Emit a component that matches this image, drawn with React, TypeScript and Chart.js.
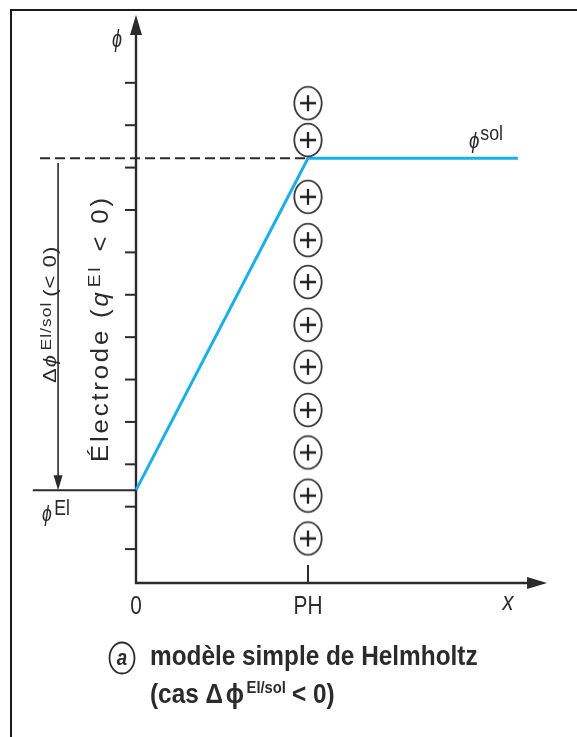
import React, { useEffect, useRef } from "react";
import { Chart, registerables } from "chart.js";
Chart.register(...registerables);

// ---- scale ranges (data units) ----
const X_MIN = -0.75;
const X_MAX = 2.5;
const Y_MIN = 0.2;
const Y_MAX = 13.6;
const X_ARROW_END = 2.39;

// ---- ticks / labels ----
const xTickValues = [1];
const xLabelValues = [0, 1];
const xTickLabels = ["0", "PH"];
const yTickValues = [1, 2, 3, 4, 5, 6, 7, 8, 9, 10, 11, 12];

// ---- potentials ----
const PHI_EL = 2.39;
const PHI_SOL = 10.22;
const potentialX = [0, 1, 2.22];
const potentialY = [PHI_EL, PHI_SOL, PHI_SOL];
const phiElLineX = [-0.6, 0];
const dashedLineX = [-0.558, 1];
const deltaArrowX = -0.453;
const deltaArrowTop = 10.11;

// ---- charges at the Helmholtz plane ----
const chargeX = 1;
const chargeY = [1.25, 2.26, 3.28, 4.28, 5.3, 6.29, 7.3, 8.29, 9.31, 10.65, 11.52];

const FF = "'Liberation Sans', Arial, sans-serif";
const INK = "#2b2b2b";
const BLUE = "#1aaeea";

type Seg = { t: string; font: string; dy?: number; gap?: number };

function drawRich(
  ctx: CanvasRenderingContext2D,
  segs: Seg[],
  x: number,
  y: number,
  opts: { rot?: number; sx?: number; ls?: number; align?: "left" | "center" } = {}
) {
  ctx.save();
  ctx.translate(x, y);
  if (opts.rot) ctx.rotate(opts.rot);
  ctx.scale(opts.sx ?? 1, 1);
  ctx.textBaseline = "alphabetic";
  ctx.textAlign = "left";
  (ctx as any).letterSpacing = `${opts.ls ?? 0}px`;
  ctx.fillStyle = INK;
  let total = 0;
  for (const s of segs) {
    ctx.font = s.font;
    total += ctx.measureText(s.t).width + (s.gap ?? 0);
  }
  let cx = opts.align === "center" ? -total / 2 : 0;
  for (const s of segs) {
    ctx.font = s.font;
    ctx.fillText(s.t, cx, s.dy ?? 0);
    cx += ctx.measureText(s.t).width + (s.gap ?? 0);
  }
  ctx.restore();
}

function makeChargeIcon(): HTMLCanvasElement {
  const c = document.createElement("canvas");
  c.width = 34;
  c.height = 38;
  const g = c.getContext("2d")!;
  g.strokeStyle = "#3a3a3a";
  g.lineWidth = 1.8;
  g.beginPath();
  g.ellipse(17, 19, 13.7, 16.4, 0, 0, Math.PI * 2);
  g.stroke();
  g.strokeStyle = "#222";
  g.lineWidth = 2.3;
  g.beginPath();
  g.moveTo(17 - 8, 19);
  g.lineTo(17 + 8, 19);
  g.moveTo(17, 19 - 8);
  g.lineTo(17, 19 + 8);
  g.stroke();
  return c;
}

const diagramPlugin = {
  id: "helmholtzDiagram",
  beforeDatasetsDraw(chart: any) {
    const ctx: CanvasRenderingContext2D = chart.ctx;
    const xs = chart.scales.x;
    const ys = chart.scales.y;
    const x0 = xs.getPixelForValue(0);
    const y0 = ys.getPixelForValue(Y_MIN);
    const yTop = ys.getPixelForValue(Y_MAX);
    const xEnd = xs.getPixelForValue(X_ARROW_END);
    ctx.save();
    // frame
    ctx.fillStyle = "#1a1a1a";
    ctx.fillRect(10, 9, 567, 2);
    ctx.fillRect(10, 9, 2, 728);

    ctx.strokeStyle = INK;
    ctx.fillStyle = INK;
    ctx.lineWidth = 2.4;
    // y axis
    ctx.beginPath();
    ctx.moveTo(x0, y0 + 1);
    ctx.lineTo(x0, yTop + 16);
    ctx.stroke();
    ctx.beginPath();
    ctx.moveTo(x0, yTop);
    ctx.lineTo(x0 - 6, yTop + 20);
    ctx.lineTo(x0 + 6, yTop + 20);
    ctx.closePath();
    ctx.fill();
    // x axis
    ctx.beginPath();
    ctx.moveTo(x0 - 1, y0);
    ctx.lineTo(xEnd - 16, y0);
    ctx.stroke();
    ctx.beginPath();
    ctx.moveTo(xEnd, y0);
    ctx.lineTo(xEnd - 20, y0 - 6);
    ctx.lineTo(xEnd - 20, y0 + 6);
    ctx.closePath();
    ctx.fill();
    // y ticks
    ctx.lineWidth = 2;
    for (const v of yTickValues) {
      const py = ys.getPixelForValue(v);
      ctx.beginPath();
      ctx.moveTo(x0 - 11, py);
      ctx.lineTo(x0, py);
      ctx.stroke();
    }
    // x ticks
    for (const v of xTickValues) {
      const px = xs.getPixelForValue(v);
      ctx.beginPath();
      ctx.moveTo(px, y0);
      ctx.lineTo(px, y0 - 18);
      ctx.stroke();
    }
    // delta phi arrow
    const ax = xs.getPixelForValue(deltaArrowX);
    const aTop = ys.getPixelForValue(deltaArrowTop);
    const aBot = ys.getPixelForValue(PHI_EL);
    ctx.lineWidth = 1.6;
    ctx.beginPath();
    ctx.moveTo(ax, aTop);
    ctx.lineTo(ax, aBot - 12);
    ctx.stroke();
    ctx.beginPath();
    ctx.moveTo(ax, aBot);
    ctx.lineTo(ax - 4.5, aBot - 15);
    ctx.lineTo(ax + 4.5, aBot - 15);
    ctx.closePath();
    ctx.fill();
    ctx.restore();
  },
  afterDatasetsDraw(chart: any) {
    const ctx: CanvasRenderingContext2D = chart.ctx;
    const xs = chart.scales.x;
    const ys = chart.scales.y;
    const y0 = ys.getPixelForValue(Y_MIN);
    const x0 = xs.getPixelForValue(0);
    // axis labels
    xLabelValues.forEach((v, i) => {
      drawRich(ctx, [{ t: xTickLabels[i], font: `26px ${FF}` }], xs.getPixelForValue(v), y0 + 31, {
        sx: 0.8,
        align: "center",
      });
    });
    drawRich(ctx, [{ t: "x", font: `italic 26px ${FF}` }], xs.getPixelForValue(X_ARROW_END) - 39, y0 + 27, {
      sx: 0.85,
      align: "center",
    });
    // phi label on y axis
    drawRich(ctx, [{ t: "ϕ", font: `italic 24px ${FF}` }], x0 - 19, 47, { sx: 0.75, align: "center" });
    // phi sol
    const pSol = ys.getPixelForValue(PHI_SOL);
    drawRich(
      ctx,
      [
        { t: "ϕ", font: `italic 22px ${FF}`, dy: 4, gap: 1 },
        { t: "sol", font: `21px ${FF}`, dy: -4 },
      ],
      469,
      pSol - 14,
      { sx: 0.85 }
    );
    // phi El
    const pEl = ys.getPixelForValue(PHI_EL);
    drawRich(
      ctx,
      [
        { t: "ϕ", font: `italic 22px ${FF}`, dy: 6, gap: 3 },
        { t: "El", font: `22px ${FF}` },
      ],
      42,
      pEl + 25,
      { sx: 0.8 }
    );
    // rotated labels
    drawRich(
      ctx,
      [
        { t: "Δ", font: `19px ${FF}` },
        { t: "ϕ", font: `italic 19px ${FF}`, gap: 3 },
        { t: "El/sol", font: `15px ${FF}`, dy: -5, gap: 4 },
        { t: "(< 0)", font: `19px ${FF}` },
      ],
      56,
      383,
      { rot: -Math.PI / 2, sx: 1.15, ls: 1 }
    );
    drawRich(
      ctx,
      [
        { t: "Électrode (", font: `23px ${FF}` },
        { t: "q", font: `italic 23px ${FF}`, gap: 2 },
        { t: "El", font: `17px ${FF}`, dy: -8, gap: 3 },
        { t: " < 0)", font: `23px ${FF}` },
      ],
      108,
      462,
      { rot: -Math.PI / 2, sx: 1.12, ls: 2.5 }
    );
    // caption
    ctx.save();
    ctx.strokeStyle = INK;
    ctx.lineWidth = 1.8;
    ctx.beginPath();
    ctx.ellipse(122, 658, 12.5, 15.5, 0, 0, Math.PI * 2);
    ctx.stroke();
    ctx.restore();
    drawRich(ctx, [{ t: "a", font: `italic bold 22px ${FF}` }], 122, 665, { sx: 0.85, align: "center" });
    drawRich(ctx, [{ t: "modèle simple de Helmholtz", font: `bold 28px ${FF}` }], 150, 665, { sx: 0.87 });
    drawRich(
      ctx,
      [
        { t: "(cas ", font: `bold 28px ${FF}` },
        { t: "Δ", font: `bold 28px ${FF}`, gap: 3 },
        { t: "ϕ", font: `bold 28px ${FF}`, gap: 3 },
        { t: "El/sol", font: `bold 17px ${FF}`, dy: -10, gap: 7 },
        { t: "< 0)", font: `bold 28px ${FF}` },
      ],
      150,
      703,
      { sx: 0.87 }
    );
  },
};

export default function App() {
  const ref = useRef<HTMLCanvasElement | null>(null);
  useEffect(() => {
    if (!ref.current) return;
    const icon = makeChargeIcon();
    const chart = new Chart(ref.current, {
      type: "scatter",
      data: {
        datasets: [
          {
            label: "dashed",
            data: dashedLineX.map((x) => ({ x, y: PHI_SOL })),
            showLine: true,
            borderColor: INK,
            borderWidth: 2,
            borderDash: [10, 5],
            pointRadius: 0,
          },
          {
            label: "phiEl",
            data: phiElLineX.map((x) => ({ x, y: PHI_EL })),
            showLine: true,
            borderColor: INK,
            borderWidth: 2,
            pointRadius: 0,
          },
          {
            label: "charges",
            data: chargeY.map((y) => ({ x: chargeX, y })),
            showLine: false,
            pointStyle: icon as any,
            pointRadius: 12,
          },
          {
            label: "potential",
            data: potentialX.map((x, i) => ({ x, y: potentialY[i] })),
            showLine: true,
            borderColor: BLUE,
            borderWidth: 3,
            pointRadius: 0,
            tension: 0,
          },
        ],
      },
      options: {
        responsive: false,
        animation: false,
        devicePixelRatio: 1,
        events: [],
        layout: { autoPadding: false, padding: { left: 7, right: 11, top: 15, bottom: 154 } },
        plugins: { legend: { display: false }, tooltip: { enabled: false } },
        scales: {
          x: { type: "linear", min: X_MIN, max: X_MAX, display: false },
          y: { type: "linear", min: Y_MIN, max: Y_MAX, display: false },
        },
      },
      plugins: [diagramPlugin],
    });
    return () => chart.destroy();
  }, []);
  return (
    <div style={{ position: "fixed", left: 0, top: 0, width: 577, height: 737, background: "#fff" }}>
      <canvas ref={ref} width={577} height={737} style={{ display: "block" }} />
    </div>
  );
}
